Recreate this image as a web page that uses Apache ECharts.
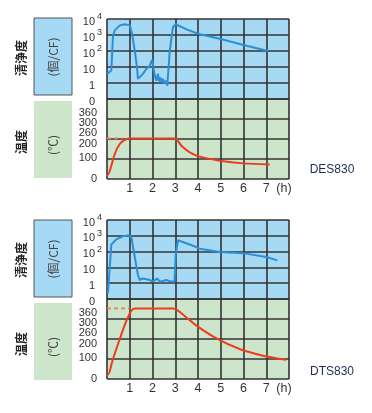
<!DOCTYPE html>
<html><head><meta charset="utf-8">
<script src="https://cdn.jsdelivr.net/npm/echarts@6/dist/echarts.min.js"></script>
<style>html,body{margin:0;padding:0;background:#fff}#c{width:372px;height:413px}</style>
</head><body><div id="c"></div>
<script>
// ---- data ----
const hourTickLabels = ['', '1', '2', '3', '4', '5', '6', '7', '(h)'];
const tempTickLabels = ['0', '100', '200', '260', '300', '360'];
const modelNames = ['DES830', 'DTS830'];

const desCleanHours  = [0.00,0.19,0.26,0.34,0.56,0.78,1.00,1.10,1.22,1.32,1.36,1.58,1.73,1.80,1.88,1.98,2.05,2.10,2.17,2.24,2.29,2.35,2.40,2.46,2.52,2.58,2.65,2.76,2.90,3.02,3.50,4.00,5.00,6.00,7.08];
const desCleanCounts = [3.7,6,740,1950,4000,4700,4000,1200,107,9.5,1.8,3.7,7.6,6,12,28,7.6,2.9,1.4,3.7,1.26,2.2,1.1,1.8,0.95,1.4,0.68,107,3200,4700,2240,1200,560,235,100];

const dtsCleanHours  = [0.04,0.16,0.19,0.41,0.70,0.97,1.07,1.22,1.36,1.44,1.58,1.88,2.02,2.20,2.33,2.60,2.83,2.97,3.02,3.12,3.16,3.20,3.93,4.02,4.95,5.98,7.00,7.49];
const dtsCleanCounts = [0.23,66,280,590,930,1100,810,47,3.3,1.6,2.0,1.6,1.26,2.0,1.26,1.6,1.26,1.26,66,525,600,575,195,155,93,80,45,28];

const desTempHours = [0.00,0.04,0.19,0.34,0.56,0.78,1.00,2.98,3.27,3.64,4.07,4.95,5.98,7.15];
const desTempC     = [28,28,85,160,224,250,260,260,213,170,143,117,100,93];
const dtsTempHours = [0.00,0.04,0.26,0.56,0.85,1.07,1.22,2.90,3.49,3.93,4.81,5.83,6.86,7.88];
const dtsTempC     = [22,22,102,204,297,348,360,360,314,272,207,153,119,98];

const desSetTemp = 260, desSetUntil = 0.7;
const dtsSetTemp = 360, dtsSetUntil = 1.0;

// ---- helpers ----
const zip = (a, b) => a.map((v, i) => [v, b[i]]);
const LINE = '#333';
const BLUE_BG = '#a6d9f3', GREEN_BG = '#cde5cb';
const FONT = '"Liberation Sans", Arial, sans-serif';
const NARROW = '"Liberation Sans Narrow", "Liberation Sans", Arial, sans-serif';
const CJK = '"Noto Sans CJK JP", "Noto Sans CJK SC", sans-serif';
const tempLabelPos = [0, 21, 35, 46, 56.5, 66.5];

function grid(top, height, bg) {
  return { left: 107, width: 182, top: top, height: height, show: true, backgroundColor: bg, borderWidth: 0, containLabel: false };
}
function xAx(gi, labels) {
  return {
    type: 'value', gridIndex: gi, min: 0, max: 8, interval: 1,
    axisLine: { show: false }, axisTick: { show: false },
    splitLine: { show: true, lineStyle: { color: LINE, width: 1.6 } },
    axisLabel: labels ? {
      show: true, margin: 3, color: '#333', fontSize: 12.5, fontFamily: FONT, showMaxLabel: true,
      formatter: v => { const t = hourTickLabels[Math.round(v)] || ''; return t === '(h)' ? '{h|(h)}' : t; },
      rich: { h: { fontSize: 12.5, color: '#333', fontFamily: FONT, padding: [0, 10, 0, 0] } }
    } : { show: false }
  };
}
function logAx(gi) {
  return {
    type: 'log', logBase: 10, gridIndex: gi, min: 0.1, max: 10000, interval: 1,
    axisLine: { show: false }, axisTick: { show: false },
    splitLine: { show: true, lineStyle: { color: LINE, width: 1.6 } },
    axisLabel: {
      margin: 5, padding: [5, 0, 0, 0],
      formatter: v => {
        const e = Math.round(Math.log10(v));
        if (e < 0) return '{b|0}{s| }';
        if (e === 0) return '{b|1}{s| }';
        if (e === 1) return '{b|10}{s| }';
        return '{b|10}{s|' + e + '}';
      },
      rich: {
        b: { fontSize: 11, color: '#333', fontFamily: FONT },
        s: { fontSize: 9, color: '#333', fontFamily: FONT, width: 7, align: 'right', padding: [0, 0, 10, 0] }
      }
    }
  };
}
function tempAx(gi, max) {
  return {
    type: 'value', gridIndex: gi, min: 0, max: max, interval: max / 4, position: 'left',
    axisLine: { show: false }, axisTick: { show: false }, axisLabel: { show: false },
    splitLine: { show: true, lineStyle: { color: LINE, width: 1.6 } }
  };
}
function tempLabelAx(gi) {
  return {
    type: 'value', gridIndex: gi, min: 0, max: 80, interval: 0.5, position: 'left',
    axisLine: { show: false }, axisTick: { show: false }, splitLine: { show: false },
    axisLabel: {
      margin: 10, padding: [6, 0, 0, 0], color: '#333', fontSize: 11, fontFamily: NARROW,
      formatter: v => { const i = tempLabelPos.findIndex(p => Math.abs(p - v) < 0.01); return i >= 0 ? tempTickLabels[i] : ''; }
    }
  };
}
function leftPanel(top) {
  return [
    { type: 'rect', shape: { x: 34, y: top - 1, width: 38, height: 77 }, style: { fill: BLUE_BG, stroke: '#555', lineWidth: 1 } },
    { type: 'rect', shape: { x: 34, y: top + 82, width: 38, height: 77 }, style: { fill: GREEN_BG } },
    { type: 'text', x: 53, y: top + 38, rotation: Math.PI / 2, style: { text: '(個/CF)', font: '12px ' + CJK, fill: '#444', textAlign: 'center', textVerticalAlign: 'middle', align: 'center', verticalAlign: 'middle' } },
    { type: 'text', x: 53, y: top + 126, rotation: Math.PI / 2, style: { text: '(℃)', font: '12px ' + CJK, fill: '#444', textAlign: 'center', textVerticalAlign: 'middle', align: 'center', verticalAlign: 'middle' } },
    { type: 'text', x: 21, y: top + 39, rotation: Math.PI / 2, style: { text: '清浄度', font: 'bold 12px ' + CJK, fill: '#222', textAlign: 'center', textVerticalAlign: 'middle', align: 'center', verticalAlign: 'middle' } },
    { type: 'text', x: 21, y: top + 123, rotation: Math.PI / 2, style: { text: '温度', font: 'bold 12px ' + CJK, fill: '#222', textAlign: 'center', textVerticalAlign: 'middle', align: 'center', verticalAlign: 'middle' } }
  ];
}
const blueLine = { color: '#2a8fd8', width: 2 };
const redLine = { color: '#ef3a1e', width: 2 };
const dashLine = { color: '#f07a50', width: 1.6, type: [4, 3] };

const option = {
  animation: false,
  grid: [grid(19, 80, BLUE_BG), grid(99, 80, GREEN_BG), grid(220, 79, BLUE_BG), grid(299, 80, GREEN_BG)],
  xAxis: [xAx(0, false), xAx(1, true), xAx(2, false), xAx(3, true)],
  yAxis: [logAx(0), tempAx(1, 512), tempLabelAx(1), logAx(2), tempAx(3, 408), tempLabelAx(3)],
  series: [
    { type: 'line', xAxisIndex: 0, yAxisIndex: 0, data: zip(desCleanHours, desCleanCounts), showSymbol: false, lineStyle: blueLine },
    { type: 'line', xAxisIndex: 1, yAxisIndex: 1, data: [[0, desSetTemp], [desSetUntil, desSetTemp]], showSymbol: false, lineStyle: dashLine },
    { type: 'line', xAxisIndex: 1, yAxisIndex: 1, data: zip(desTempHours, desTempC), showSymbol: false, smooth: 0.3, lineStyle: redLine },
    { type: 'line', xAxisIndex: 2, yAxisIndex: 3, data: zip(dtsCleanHours, dtsCleanCounts), showSymbol: false, lineStyle: blueLine },
    { type: 'line', xAxisIndex: 3, yAxisIndex: 4, data: [[0, dtsSetTemp], [dtsSetUntil, dtsSetTemp]], showSymbol: false, lineStyle: dashLine },
    { type: 'line', xAxisIndex: 3, yAxisIndex: 4, data: zip(dtsTempHours, dtsTempC), showSymbol: false, smooth: 0.3, lineStyle: redLine }
  ],
  graphic: [].concat(leftPanel(19), leftPanel(221), [
    { type: 'text', x: 332, y: 170, style: { text: modelNames[0], font: '12px ' + FONT, fill: '#1f2d52', textAlign: 'center', textVerticalAlign: 'middle', align: 'center', verticalAlign: 'middle' } },
    { type: 'text', x: 332, y: 372, style: { text: modelNames[1], font: '12px ' + FONT, fill: '#1f2d52', textAlign: 'center', textVerticalAlign: 'middle', align: 'center', verticalAlign: 'middle' } }
  ])
};
const chart = echarts.init(document.getElementById('c'), null, { renderer: 'canvas' });
chart.setOption(option);
</script>
</body></html>
